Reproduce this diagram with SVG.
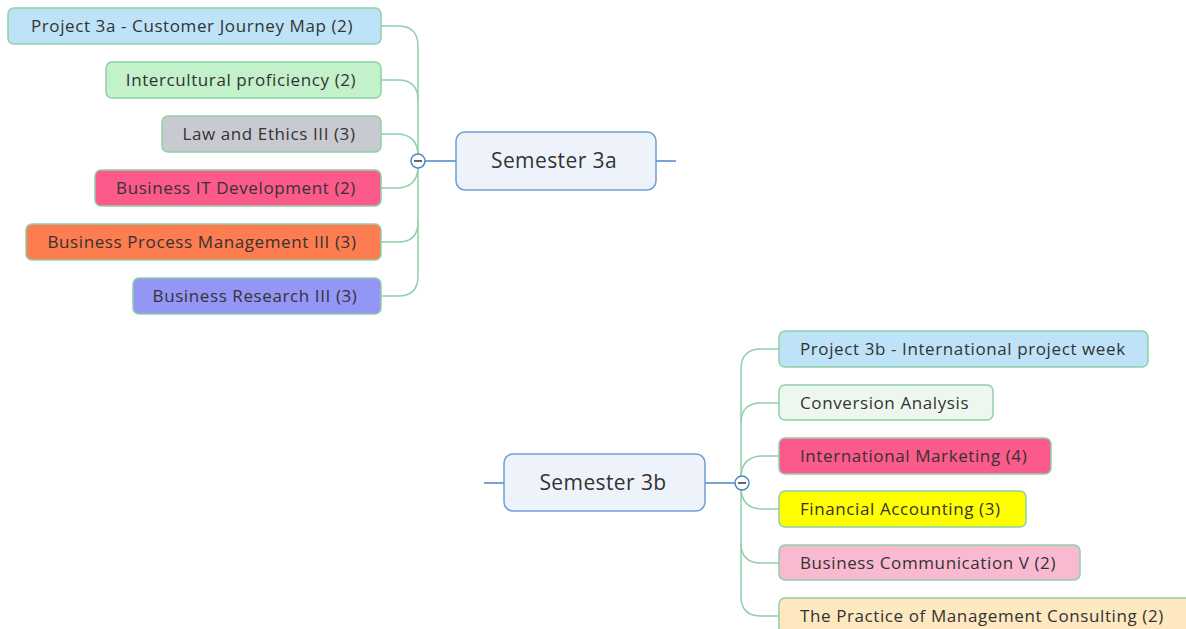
<svg xmlns="http://www.w3.org/2000/svg" width="1186" height="629" viewBox="0 0 1186 629">
<style>
.n{stroke:#8fd0a8;stroke-width:1.5}
.t{font-family:"Open Sans","Noto Sans",sans-serif;font-size:17px;letter-spacing:0.6px;fill:#333;text-anchor:middle;dominant-baseline:central}
.s{text-anchor:start}
.m{fill:#eef3fb;stroke:#6f9fd4;stroke-width:1.5}
.mt{font-family:"Open Sans","Noto Sans",sans-serif;font-size:21px;letter-spacing:0.4px;fill:#333;text-anchor:middle;dominant-baseline:central}
.c{fill:none;stroke:#8fd0a8;stroke-width:1.5}
.b{fill:none;stroke:#4f86c6;stroke-width:1.5}
</style>
<rect width="1186" height="629" fill="#fff"/>
<g id="connectors">
<path class="c" d="M381,26 H398 Q418,26 418,46 V276 Q418,296 398,296 H381"/>
<path class="c" d="M381,80 H398 Q418,80 418,100"/>
<path class="c" d="M381,134 H396 Q418,134 418,156"/>
<path class="c" d="M381,188 H396 Q418,188 418,166"/>
<path class="c" d="M381,242 H398 Q418,242 418,222"/>
<path class="c" d="M779,349 H761 Q741,349 741,369 V596 Q741,616 761,616 H779"/>
<path class="c" d="M779,403 H761 Q741,403 741,423"/>
<path class="c" d="M779,456 H763 Q741,456 741,478"/>
<path class="c" d="M779,509 H763 Q741,509 741,487"/>
<path class="c" d="M779,563 H761 Q741,563 741,543"/>
<path class="b" d="M425,161 H456 M656,161 H676"/>
<path class="b" d="M484,483 H504 M705,483 H735"/>
<g id="toggle-3a"><circle cx="418" cy="161" r="7" fill="#fff" stroke="#4f86c6" stroke-width="1.5"/><path d="M414,161 H422" stroke="#333" stroke-width="1.5"/></g>
<g id="toggle-3b"><circle cx="742" cy="483" r="7" fill="#fff" stroke="#4f86c6" stroke-width="1.5"/><path d="M738,483 H746" stroke="#333" stroke-width="1.5"/></g>
</g>
<g id="semester-3a"><rect class="m" x="456" y="132" width="200" height="58" rx="9"/><text class="mt" x="554" y="160">Semester 3a</text></g>
<g id="semester-3b"><rect class="m" x="504" y="454" width="201" height="57" rx="9"/><text class="mt" x="603" y="482">Semester 3b</text></g>
<g id="a1"><rect class="n" x="8" y="8" width="373" height="36" rx="6" fill="#bee3f8"/><text class="t" x="192" y="25">Project 3a - Customer Journey Map (2)</text></g>
<g id="a2"><rect class="n" x="106" y="62" width="275" height="36" rx="6" fill="#c3f1ca"/><text class="t" x="241" y="79">Intercultural proficiency (2)</text></g>
<g id="a3"><rect class="n" x="162" y="116" width="219" height="36" rx="6" fill="#c9c9d2"/><text class="t" x="269" y="133">Law and Ethics III (3)</text></g>
<g id="a4"><rect class="n" x="95" y="170" width="286" height="36" rx="6" fill="#fc5a8b"/><text class="t" x="236" y="187">Business IT Development (2)</text></g>
<g id="a5"><rect class="n" x="26" y="224" width="355" height="36" rx="6" fill="#fd7c50"/><text class="t" x="202" y="241">Business Process Management III (3)</text></g>
<g id="a6"><rect class="n" x="133" y="278" width="248" height="36" rx="6" fill="#9496f6"/><text class="t" x="255" y="295">Business Research III (3)</text></g>
<g id="b1"><rect class="n" x="779" y="331" width="369" height="36" rx="6" fill="#bee3f8"/><text class="t s" x="800" y="348">Project 3b - International project week</text></g>
<g id="b2"><rect class="n" x="779" y="385" width="214" height="35" rx="6" fill="#eef6f0"/><text class="t s" x="800" y="402">Conversion Analysis</text></g>
<g id="b3"><rect class="n" x="779" y="438" width="272" height="36" rx="6" fill="#fc5a8b"/><text class="t s" x="800" y="455">International Marketing (4)</text></g>
<g id="b4"><rect class="n" x="779" y="491" width="247" height="36" rx="6" fill="#ffff00"/><text class="t s" x="800" y="508">Financial Accounting (3)</text></g>
<g id="b5"><rect class="n" x="779" y="545" width="301" height="35" rx="6" fill="#f9b9d0"/><text class="t s" x="800" y="562">Business Communication V (2)</text></g>
<g id="b6"><rect class="n" x="779" y="598" width="420" height="36" rx="6" fill="#fde8c0"/><text class="t s" x="800" y="615">The Practice of Management Consulting (2)</text></g>
</svg>
